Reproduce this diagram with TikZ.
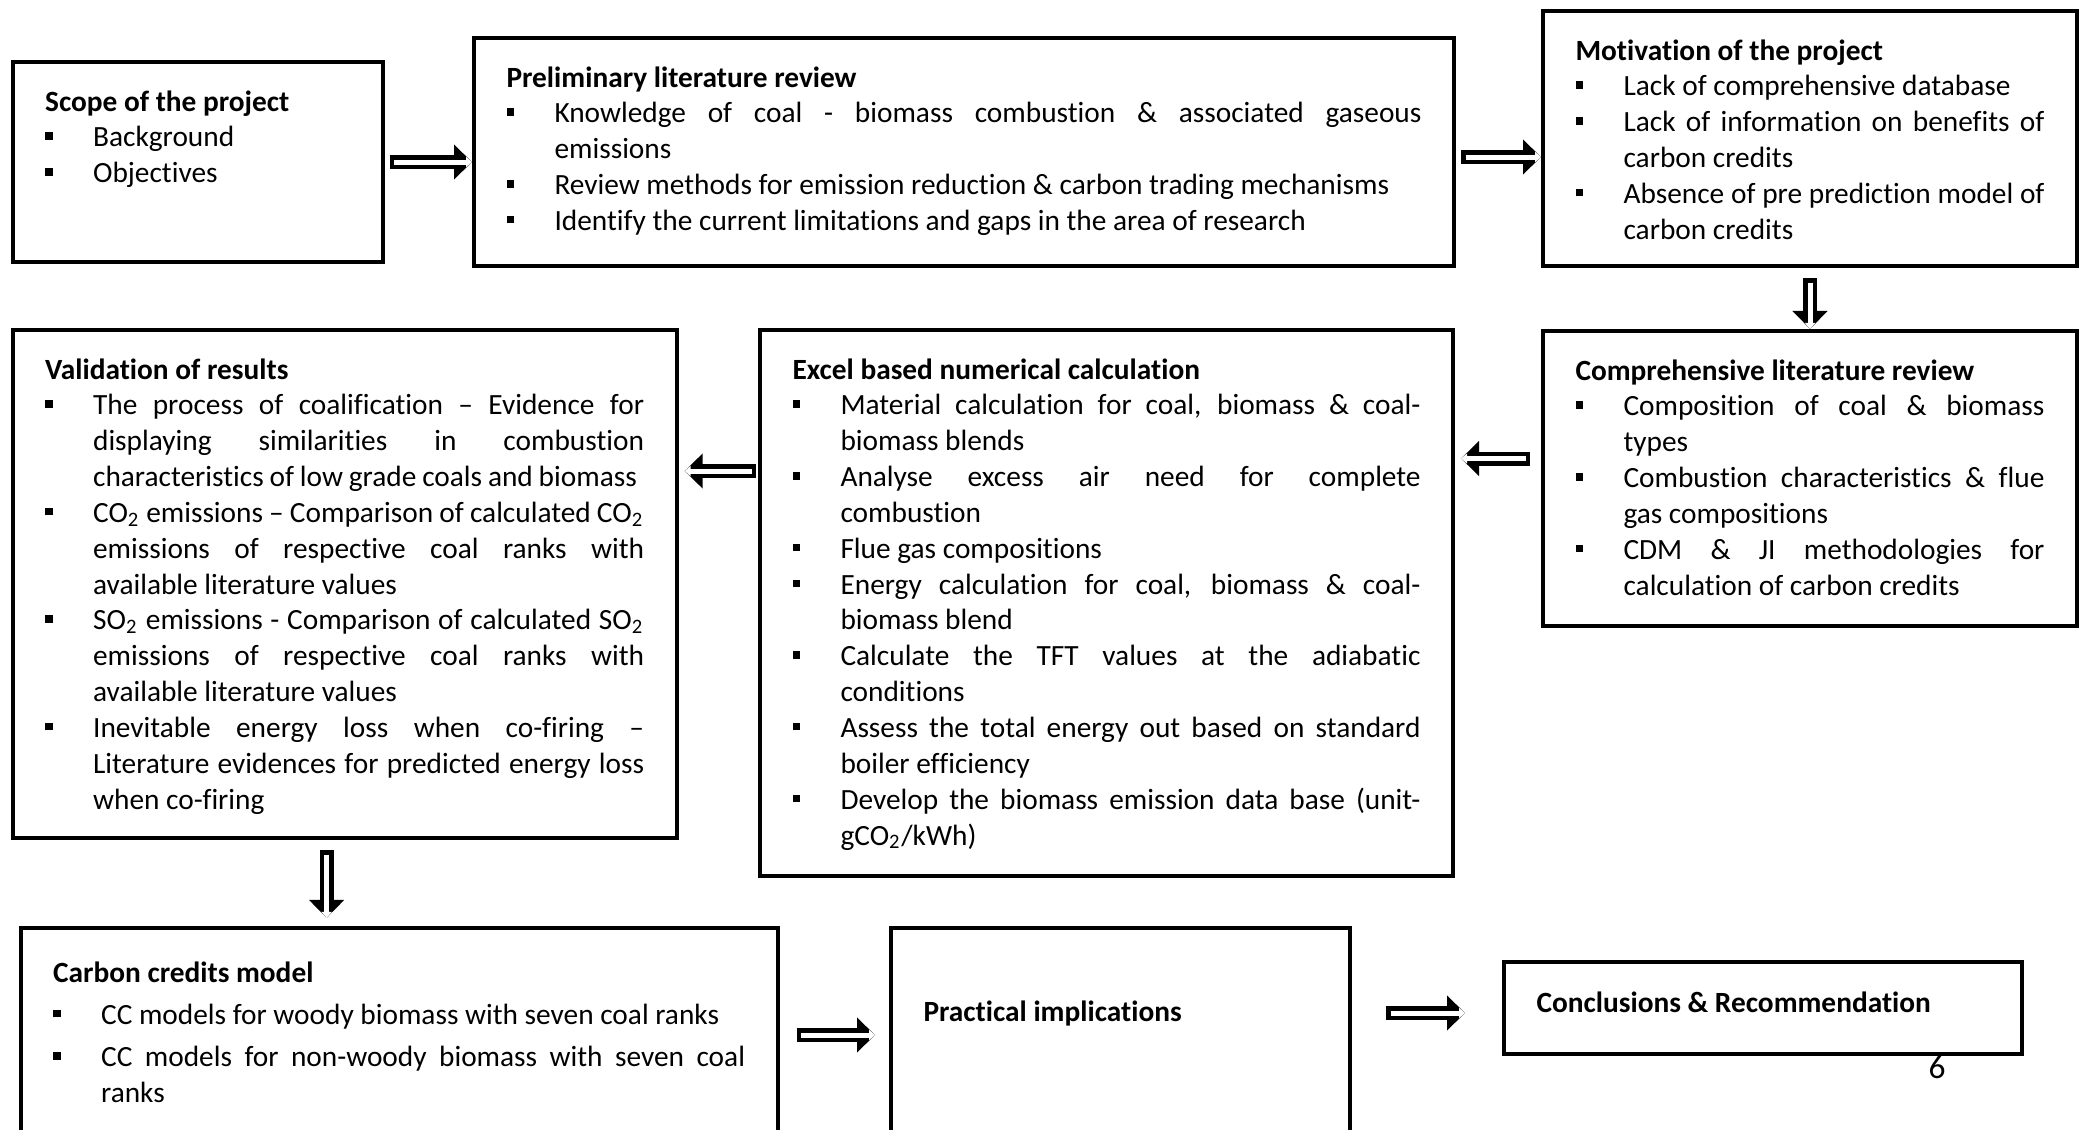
\documentclass[tikz,border=0pt]{standalone}
\usepackage{fontspec}
\setmainfont{Carlito}[Ligatures=NoCommon]
\usetikzlibrary{positioning,arrows.meta}

\newcommand\bodyfont{\fontsize{8.35pt}{10.2pt}\selectfont\hyphenpenalty=10000\exhyphenpenalty=10000}
\newcommand\bitem[1]{\par\noindent\hangindent=0.48cm\hangafter=1\makebox[0.48cm][l]{\raisebox{0.07cm}{\rule{0.075cm}{0.075cm}}}#1\par}

\tikzset{
    stagebox/.style 2 args={draw, line width=1.15pt, anchor=north west, inner xsep=0.325cm, inner ysep=0pt,
        text height=0.49cm, text width=#1, text depth=#2, align=justify, font=\bodyfont},
    hollow/.style={line width=0.14cm, -{Triangle[length=0.18cm,width=0.34cm]},
        postaction={draw=white, line width=0.05cm, shorten <=0.045cm, -{Triangle[length=0.06cm,width=0.1cm]}}}
}

\begin{document}
\begin{tikzpicture}
        \clip (0,0) rectangle (20.83,-11.30);
        \node[stagebox={3.05cm}{1.51cm}] (scope) at (0.106,-0.60) {\textbf{Scope of the project}
            \bitem{Background}
            \bitem{Objectives}};
        \node[stagebox={9.15cm}{1.79cm}] (prelimReview) at (4.72,-0.36) {\textbf{Preliminary literature review}
            \bitem{Knowledge of coal - biomass combustion \& associated gaseous\linebreak emissions}
            \bitem{Review methods for emission reduction \& carbon trading mechanisms}
            \bitem{Identify the current limitations and gaps in the area of research}};
        \node[stagebox={4.69cm}{2.06cm}] (motivation) at (15.41,-0.09) {\textbf{Motivation of the project}
            \bitem{Lack of comprehensive database}
            \bitem{Lack of information on benefits of\linebreak carbon credits}
            \bitem{Absence of pre prediction model of\linebreak carbon credits}};
        \node[stagebox={4.69cm}{2.46cm}] (compReview) at (15.41,-3.29) {\textbf{Comprehensive literature review}
            \bitem{Composition of coal \& biomass\linebreak types}
            \bitem{Combustion characteristics \& flue\linebreak gas compositions}
            \bitem{CDM \& JI methodologies for\linebreak calculation of carbon credits}};
        \node[stagebox={6.28cm}{4.97cm}] (excelCalc) at (7.58,-3.28) {\textbf{Excel based numerical calculation}
            \bitem{Material calculation for coal, biomass \& coal-\linebreak biomass blends}
            \bitem{Analyse excess air need for complete\linebreak combustion}
            \bitem{Flue gas compositions}
            \bitem{Energy calculation for coal, biomass \& coal-\linebreak biomass blend}
            \bitem{Calculate the TFT values at the adiabatic\linebreak conditions}
            \bitem{Assess the total energy out based on standard\linebreak boiler efficiency}
            \bitem{Develop the biomass emission data base (unit-\linebreak gCO\textsubscript{2}/kWh)}};
        \node[stagebox={5.99cm}{4.59cm}] (validation) at (0.106,-3.28) {\textbf{Validation of results}
            \bitem{The process of coalification -- Evidence for\linebreak displaying similarities in combustion\linebreak {\spaceskip=0.2em characteristics of low grade coals and biomass}}
            \bitem{CO\textsubscript{2} emissions -- Comparison of calculated CO\textsubscript{2}\linebreak emissions of respective coal ranks with\linebreak available literature values}
            \bitem{SO\textsubscript{2} emissions - Comparison of calculated SO\textsubscript{2}\linebreak emissions of respective coal ranks with\linebreak available literature values}
            \bitem{Inevitable energy loss when co-firing --\linebreak Literature evidences for predicted energy loss\linebreak when co-firing}};
        \node[stagebox={6.92cm}{2.0cm}, text height=0.54cm] (ccModel) at (0.186,-9.26) {\setlength\parskip{0.066cm}\textbf{Carbon credits model}
            \bitem{CC models for woody biomass with seven coal ranks}
            \bitem{CC models for non-woody biomass with seven coal\linebreak ranks}};
        \node[stagebox={3.94cm}{1.6cm}, text height=0.93cm] (practical) at (8.89,-9.26) {\textbf{Practical implications}};
        \node[stagebox={4.53cm}{0.415cm}, text height=0.505cm] (conclusions) at (15.02,-9.60) {\textbf{Conclusions \& Recommendation}};
        \node[font=\fontsize{9.5pt}{11pt}\selectfont] (pageNum) at (19.37,-10.67) {6};
        \draw[hollow] ([xshift=0.05cm]scope.east) -- (prelimReview.west |- scope.east);
        \draw[hollow] ([shift={(0.05,-0.05)}]prelimReview.east) -- ([yshift=-0.05cm]prelimReview.east -| motivation.west);
        \draw[hollow] ([yshift=-0.1cm]motivation.south) -- (compReview.north);
        \draw[hollow] ([shift={(-0.11,0.2)}]compReview.west) -- ([shift={(0.06,0.2)}]compReview.west -| excelCalc.east);
        \draw[hollow] ([shift={(-0.02,1.32)}]excelCalc.west) -- ([shift={(0.06,1.32)}]excelCalc.west -| validation.east);
        \draw[hollow] ([shift={(-0.18,-0.1)}]validation.south) -- ([shift={(-0.18,0.08)}]validation.south |- ccModel.north);
        \draw[hollow] ([shift={(0.17,0.2)}]ccModel.east) -- ([shift={(-0.14,0.2)}]ccModel.east -| practical.west);
        \draw[hollow] ([shift={(0.34,-0.05)}]practical.east |- conclusions.west) -- ([shift={(-0.37,-0.05)}]conclusions.west);
\end{tikzpicture}
\end{document}
